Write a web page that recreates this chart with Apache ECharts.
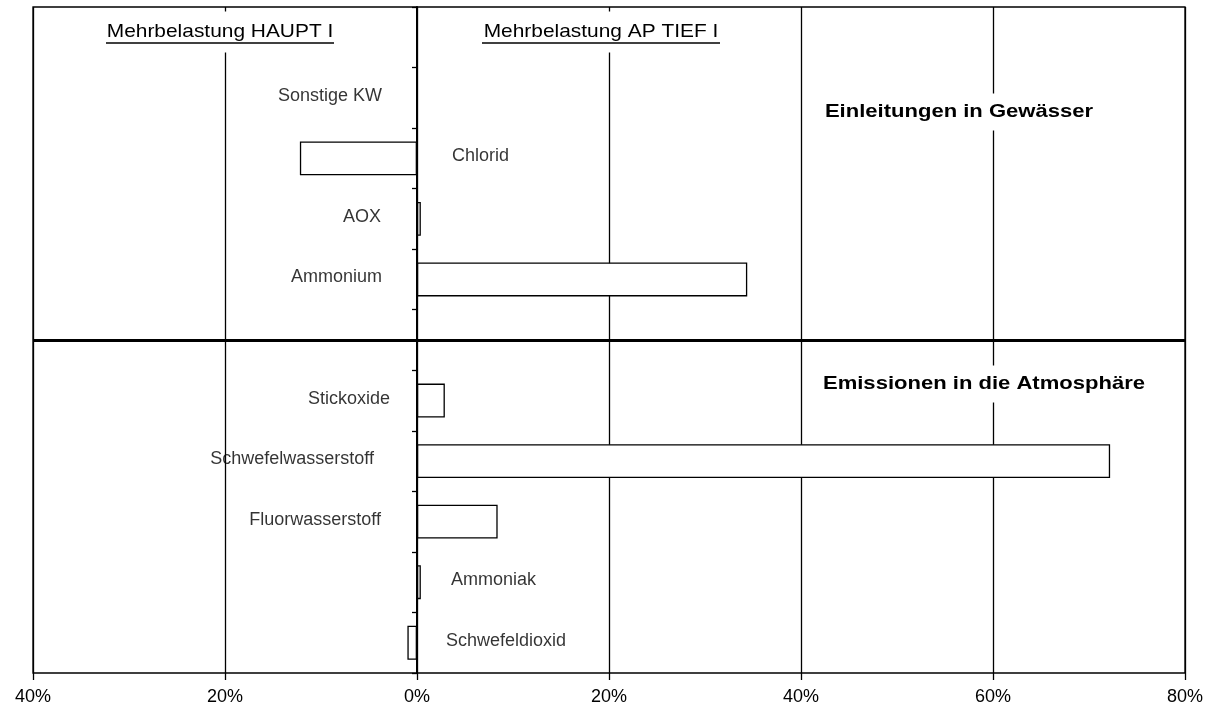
<!DOCTYPE html>
<html>
<head>
<meta charset="utf-8">
<script src="https://cdn.jsdelivr.net/npm/echarts@6/dist/echarts.min.js"></script>
<style>
  html, body { margin: 0; background: #fff; }
  #main { width: 1215px; height: 714px; }
</style>
</head>
<body>
<div id="main"></div>
<script>
// Kategorien von oben nach unten, leere Einträge = Freiraum oben / Trennlinie
var categories = ['', 'Sonstige KW', 'Chlorid', 'AOX', 'Ammonium', ' ',
  'Stickoxide', 'Schwefelwasserstoff', 'Fluorwasserstoff', 'Ammoniak', 'Schwefeldioxid'];
// Mehrbelastung in %, negativ = HAUPT I, positiv = AP TIEF I
var mehrbelastung = [null, 0, -12.2, 0.4, 34.4, null, 2.9, 72.2, 8.4, 0.4, -1.0];
var sideTitles = ['Mehrbelastung HAUPT I', 'Mehrbelastung AP TIEF I'];
var groupTitles = ['Einleitungen in Gewässer', 'Emissionen in die Atmosphäre'];
var separatorIndex = 5;

// wo die Beschriftung neben der Nulllinie steht
var labelSide = {
  'Sonstige KW': ['left', 35],
  'Chlorid': ['right', 35],
  'AOX': ['left', 36],
  'Ammonium': ['left', 35],
  'Stickoxide': ['left', 27],
  'Schwefelwasserstoff': ['left', 43],
  'Fluorwasserstoff': ['left', 36],
  'Ammoniak': ['right', 34],
  'Schwefeldioxid': ['right', 29]
};

var font = "'Liberation Sans', Arial, sans-serif";

var labelData = [];
categories.forEach(function (c, i) {
  if (!labelSide[c]) return;
  labelData.push({
    name: c,
    value: [0, i],
    label: { position: labelSide[c][0], distance: labelSide[c][1] }
  });
});

var chart = echarts.init(document.getElementById('main'));

var option = {
  animation: false,
  backgroundColor: '#fff',
  grid: {
    left: 33, right: 30, top: 7, bottom: 41,
    show: true, borderColor: '#000', borderWidth: 1.3
  },
  xAxis: {
    type: 'value',
    min: -40, max: 80, interval: 20,
    axisLine: { lineStyle: { color: '#000', width: 2 } },
    axisTick: { show: true, length: 7, lineStyle: { color: '#000', width: 1.3 } },
    axisLabel: {
      color: '#000', fontSize: 18, fontFamily: font, margin: 15,
      formatter: function (v) { return Math.abs(v) + '%'; }
    },
    splitLine: { show: true, lineStyle: { color: '#000', width: 1.3 } }
  },
  yAxis: {
    type: 'category',
    inverse: true,
    data: categories,
    axisLine: { onZero: true, lineStyle: { color: '#000', width: 2 } },
    axisTick: { show: true, length: 5, lineStyle: { color: '#000', width: 1.3 } },
    axisLabel: { show: false },
    splitLine: { show: false }
  },
  series: [
    {
      type: 'bar',
      data: mehrbelastung,
      barWidth: '56%',
      itemStyle: { color: '#fff', borderColor: '#000', borderWidth: 1.3 },
      markLine: {
        silent: true,
        symbol: 'none',
        label: { show: false },
        lineStyle: { color: '#000', width: 3, type: 'solid' },
        data: [{ yAxis: separatorIndex }]
      }
    },
    {
      type: 'scatter',
      data: labelData,
      symbolSize: 0,
      silent: true,
      z: 5,
      label: {
        show: true,
        formatter: '{b}',
        color: '#000',
        fontSize: 18,
        fontFamily: font,
        textBorderWidth: 0,
        offset: [0, -2]
      }
    }
  ],
  graphic: [
    {
      type: 'text', x: 220, y: 32, scaleX: 1.1, z: 10,
      style: {
        text: sideTitles[0], fill: '#000', font: '19px ' + font,
        textAlign: 'center', textVerticalAlign: 'middle',
        backgroundColor: '#fff', padding: [10, 4, 12, 4]
      }
    },
    { type: 'line', z: 11, shape: { x1: 106, y1: 43, x2: 334, y2: 43 }, style: { stroke: '#000', lineWidth: 1.3 } },
    {
      type: 'text', x: 601, y: 32, scaleX: 1.1, z: 10,
      style: {
        text: sideTitles[1], fill: '#000', font: '19px ' + font,
        textAlign: 'center', textVerticalAlign: 'middle',
        backgroundColor: '#fff', padding: [10, 4, 12, 4]
      }
    },
    { type: 'line', z: 11, shape: { x1: 482, y1: 43, x2: 720, y2: 43 }, style: { stroke: '#000', lineWidth: 1.3 } },
    {
      type: 'text', x: 959, y: 112, scaleX: 1.16, z: 10,
      style: {
        text: groupTitles[0], fill: '#000', font: 'bold 19px ' + font,
        textAlign: 'center', textVerticalAlign: 'middle',
        backgroundColor: '#fff', padding: [9, 6]
      }
    },
    {
      type: 'text', x: 984, y: 384, scaleX: 1.16, z: 10,
      style: {
        text: groupTitles[1], fill: '#000', font: 'bold 19px ' + font,
        textAlign: 'center', textVerticalAlign: 'middle',
        backgroundColor: '#fff', padding: [9, 6]
      }
    }
  ]
};

chart.setOption(option);
</script>
</body>
</html>
